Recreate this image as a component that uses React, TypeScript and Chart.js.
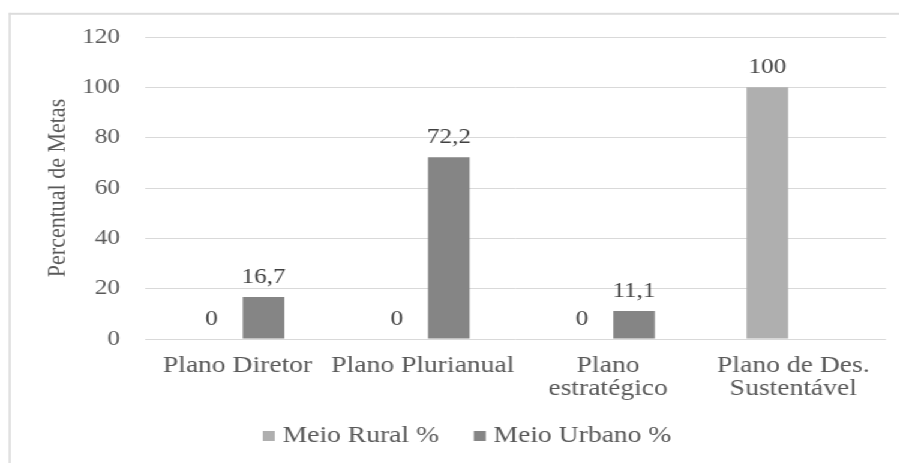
import { useEffect, useRef } from 'react';
import { Chart, registerables } from 'chart.js';

Chart.register(...registerables);

// ---- data ----
const categories: (string | string[])[] = [
  'Plano Diretor',
  'Plano Plurianual',
  ['Plano', 'estratégico'],
  ['Plano de Des.', 'Sustentável'],
];
const seriesNames = ['Meio Rural %', 'Meio Urbano %'];
const ruralValues: (number | null)[] = [0, 0, 0, 100];
const urbanoValues: (number | null)[] = [16.7, 72.2, 11.1, null];
const yMin = 0;
const yMax = 120;
const yStep = 20;
const yTitle = 'Percentual de Metas';

// ---- styling ----
const SX = 1.2; // horizontal stretch of the reference picture
const W = 749;
const H = 463;
const FONT = "'Liberation Serif', 'Times New Roman', serif";
const TEXT = '#595959';
const RURAL = '#afafaf';
const URBANO = '#858585';

const fmt = (v: number) => String(v).replace('.', ',');

const dataLabels = {
  id: 'dataLabels',
  afterDatasetsDraw(chart: any) {
    const ctx = chart.ctx;
    ctx.save();
    ctx.font = `21px ${FONT}`;
    ctx.fillStyle = '#404040';
    ctx.textAlign = 'center';
    ctx.textBaseline = 'alphabetic';
    chart.data.datasets.forEach((ds: any, i: number) => {
      const meta = chart.getDatasetMeta(i);
      meta.data.forEach((bar: any, j: number) => {
        const v = ds.data[j];
        if (v === null || v === undefined) return;
        ctx.fillText(fmt(v), bar.x, bar.y - 14);
      });
    });
    ctx.restore();
  },
};

const frame = {
  id: 'frame',
  afterLayout(chart: any) {
    // let the two-line category labels extend below the x-axis box
    if (chart.scales.x) chart.scales.x.bottom = chart.height;
  },
  beforeDraw(chart: any) {
    const ctx = chart.ctx;
    ctx.save();
    ctx.fillStyle = '#dcdcdc';
    ctx.fillRect(7.2, 12.8, chart.width, 2);
    ctx.fillRect(7.2, 12.8, 1.8, chart.height);
    ctx.restore();
  },
};

export default function App() {
  const ref = useRef<HTMLCanvasElement | null>(null);

  useEffect(() => {
    if (!ref.current) return;
    document.body.style.overflow = 'hidden';
    const chart = new Chart(ref.current, {
      type: 'bar',
      data: {
        labels: categories as any,
        datasets: [
          {
            label: seriesNames[0],
            data: ruralValues,
            backgroundColor: RURAL,
            categoryPercentage: 0.561,
            barPercentage: 0.8,
          },
          {
            label: seriesNames[1],
            data: urbanoValues,
            backgroundColor: URBANO,
            categoryPercentage: 0.561,
            barPercentage: 0.8,
          },
        ],
      },
      options: {
        responsive: false,
        animation: false,
        devicePixelRatio: 1,
        layout: { padding: { left: 45.2, right: 10.7, top: 37, bottom: 5.5 } },
        plugins: {
          legend: {
            position: 'bottom',
            labels: {
              usePointStyle: true,
              pointStyle: 'rect',
              boxWidth: 0.01,
              boxHeight: 10,
              padding: 34,
              color: TEXT,
              font: { family: FONT, size: 23 },
            },
          },
          tooltip: { enabled: false },
        },
        scales: {
          x: {
            grid: { display: false, drawTicks: false },
            border: { display: false },
            ticks: {
              padding: 15.5,
              color: TEXT,
              font: { family: FONT, size: 23, lineHeight: 1.0 },
              maxRotation: 0,
              minRotation: 0,
              autoSkip: false,
            },
            afterFit: (s: any) => {
              s.height = 51.5;
            },
          },
          y: {
            min: yMin,
            max: yMax,
            ticks: {
              stepSize: yStep,
              padding: 20.8,
              color: TEXT,
              font: { family: FONT, size: 21 },
            },
            grid: { color: '#d9d9d9', lineWidth: 1, drawTicks: false },
            border: { display: false },
            title: {
              display: true,
              text: yTitle,
              color: TEXT,
              font: { family: FONT, size: 22 },
              padding: { top: -10.1, bottom: 0 },
            },
            afterFit: (s: any) => {
              s.width = 75.6;
            },
          },
        },
      } as any,
      plugins: [frame, dataLabels],
    });
    return () => chart.destroy();
  }, []);

  return (
    <div
      style={{
        position: 'fixed',
        left: 0,
        top: 0,
        width: W,
        height: H,
        transform: `scaleX(${SX})`,
        transformOrigin: '0 0',
        background: '#fff',
      }}
    >
      <canvas ref={ref} width={W} height={H} style={{ width: W, height: H, display: 'block' }} />
    </div>
  );
}
